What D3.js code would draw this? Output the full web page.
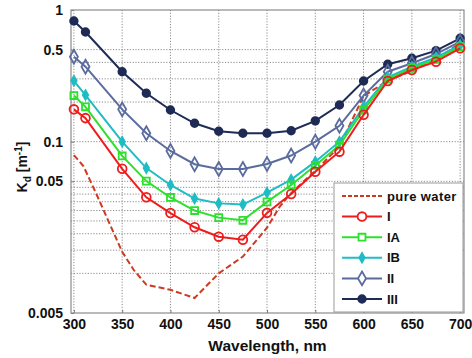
<!DOCTYPE html>
<html>
<head>
<meta charset="utf-8">
<script src="https://cdn.jsdelivr.net/npm/d3@7"></script>
<style>
  body { margin: 0; background: #fff; }
  svg text { font-family: "Liberation Sans", Arial, sans-serif; font-weight: bold; fill: #111; }
</style>
</head>
<body>
<svg id="chart" width="472" height="358"></svg>
<script>
// wavelengths of the measured spectra, nm
var wavelengths = [300, 312, 350, 375, 400, 425, 450, 475, 500, 525, 550, 575, 600, 625, 650, 675, 700];

var kdI   = [0.176, 0.151, 0.0622, 0.0378, 0.0287, 0.0224, 0.0190, 0.0180, 0.0288, 0.0400, 0.0592, 0.084, 0.160, 0.289, 0.350, 0.405, 0.512];
var kdIA  = [0.224, 0.184, 0.0779, 0.0502, 0.0377, 0.0300, 0.0265, 0.0253, 0.0349, 0.0469, 0.0660, 0.094, 0.174, 0.298, 0.361, 0.422, 0.526];
var kdIB  = [0.290, 0.226, 0.100, 0.0630, 0.0469, 0.0370, 0.0340, 0.0333, 0.0410, 0.0515, 0.0705, 0.100, 0.184, 0.308, 0.371, 0.437, 0.542];
var kdII  = [0.442, 0.371, 0.176, 0.116, 0.0850, 0.0674, 0.0621, 0.0621, 0.0677, 0.0785, 0.100, 0.132, 0.224, 0.340, 0.394, 0.463, 0.575];
var kdIII = [0.825, 0.681, 0.340, 0.233, 0.174, 0.138, 0.120, 0.116, 0.116, 0.121, 0.144, 0.190, 0.289, 0.387, 0.430, 0.491, 0.610];

// pure water curve (dashed, no markers)
var waterWl = [300, 310, 324, 336, 350, 362, 375, 400, 425, 450, 475, 500, 513, 524, 538, 550, 575, 600, 625, 650, 675, 700];
var waterKd = [0.079, 0.065, 0.039, 0.0247, 0.0146, 0.0106, 0.0082, 0.0075, 0.0065, 0.0100, 0.0134, 0.0222, 0.032, 0.040, 0.050, 0.060, 0.092, 0.222, 0.290, 0.345, 0.420, 0.560];

var xTicks = [300, 350, 400, 450, 500, 550, 600, 650, 700];
var yTickLabels = [1, 0.5, 0.1, 0.05, 0.005];
var yGrid = [0.5, 0.4, 0.3, 0.2, 0.1, 0.05, 0.045, 0.04, 0.035, 0.03, 0.025, 0.02, 0.015, 0.01];

var seriesNames = ['I', 'IA', 'IB', 'II', 'III'];

(function () {
    var svg = d3.select('#chart');
    var plotLeft = 71, plotRight = 464, plotTop = 10, plotBottom = 313;

    var x = d3.scaleLinear().domain([297, 704]).range([plotLeft, plotRight]);
    var y = d3.scaleLog().domain([0.005, 1]).range([plotBottom, plotTop]);

    // grid
    var grid = svg.append('g').attr('stroke', '#808080').attr('stroke-width', 0.9).attr('stroke-dasharray', '1.2,1.6');
    grid.selectAll('.gx').data(xTicks).enter().append('line')
        .attr('x1', function (d) { return x(d); }).attr('x2', function (d) { return x(d); })
        .attr('y1', plotTop).attr('y2', plotBottom);
    grid.selectAll('.gy').data(yGrid).enter().append('line')
        .attr('x1', plotLeft).attr('x2', plotRight)
        .attr('y1', function (d) { return y(d); }).attr('y2', function (d) { return y(d); });

    // axes (ticks inward, frame drawn separately)
    var xAxis = d3.axisBottom(x).tickValues(xTicks).tickSize(-3).tickPadding(6).tickFormat(d3.format('d'));
    var yAxis = d3.axisLeft(y).tickValues(yTickLabels).tickSize(-3).tickPadding(6).tickFormat(function (d) { return String(d); });

    var gx = svg.append('g').attr('transform', 'translate(0,' + plotBottom + ')').call(xAxis);
    var gy = svg.append('g').attr('transform', 'translate(' + plotLeft + ',0)').call(yAxis);
    [gx, gy].forEach(function (g) {
        g.select('.domain').remove();
        g.selectAll('line').attr('stroke', '#777');
        g.selectAll('text').attr('font-size', 14).attr('font-family', '"Liberation Sans", Arial, sans-serif')
            .attr('font-weight', 'bold').attr('fill', '#111');
    });
    gy.selectAll('text').attr('dx', '-2');

    svg.append('rect').attr('x', plotLeft).attr('y', plotTop)
        .attr('width', plotRight - plotLeft).attr('height', plotBottom - plotTop)
        .attr('fill', 'none').attr('stroke', '#8c8c8c').attr('stroke-width', 1.2);

    // axis titles
    svg.append('text').attr('x', (plotLeft + plotRight) / 2).attr('y', 351).attr('text-anchor', 'middle')
        .attr('font-size', 15.5).text('Wavelength, nm');

    var yt = svg.append('text').attr('transform', 'translate(27,167) rotate(-90)').attr('text-anchor', 'middle').attr('font-size', 14);
    yt.append('tspan').text('K');
    yt.append('tspan').attr('font-size', 10).attr('dy', 4).text('d');
    yt.append('tspan').attr('dy', -4).text(' [m');
    yt.append('tspan').attr('font-size', 10).attr('dy', -5).text('-1');
    yt.append('tspan').attr('dy', 5).text(']');

    var line = d3.line()
        .x(function (d) { return x(d[0]); })
        .y(function (d) { return y(d[1]); })
        .curve(d3.curveLinear);

    // pure water
    svg.append('path')
        .datum(d3.zip(waterWl, waterKd))
        .attr('d', line)
        .attr('fill', 'none').attr('stroke', '#cc3a22').attr('stroke-width', 2).attr('stroke-dasharray', '6,3');

    var styles = {
        'I':   { color: '#ee1c1c', marker: 'circle',  size: 60, fill: 'none' },
        'IA':  { color: '#2de02d', marker: 'square',  size: 48, fill: 'none' },
        'IB':  { color: '#20bcc4', marker: 'diamond', size: 26, fill: '#20bcc4' },
        'II':  { color: '#5a6c9e', marker: 'diamond', size: 55, fill: 'none' },
        'III': { color: '#1e2b55', marker: 'circle',  size: 45, fill: '#1e2b55' }
    };
    var values = { 'I': kdI, 'IA': kdIA, 'IB': kdIB, 'II': kdII, 'III': kdIII };
    var shapes = { circle: d3.symbolCircle, square: d3.symbolSquare, diamond: d3.symbolDiamond };

    seriesNames.slice().reverse().forEach(function (name) {
        var st = styles[name];
        var pts = d3.zip(wavelengths, values[name]);
        var g = svg.append('g');
        g.append('path').datum(pts).attr('d', line)
            .attr('fill', 'none').attr('stroke', st.color).attr('stroke-width', 2);
        g.selectAll('path.m').data(pts).enter().append('path').attr('class', 'm')
            .attr('transform', function (d) { return 'translate(' + x(d[0]) + ',' + y(d[1]) + ')'; })
            .attr('d', d3.symbol().type(shapes[st.marker]).size(st.size))
            .attr('fill', st.fill).attr('stroke', st.color).attr('stroke-width', 1.8);
    });

    // legend
    var lg = svg.append('g').attr('transform', 'translate(334,183)');
    lg.append('rect').attr('width', 129).attr('height', 129).attr('fill', '#fff').attr('stroke', '#999').attr('stroke-width', 1);
    var entries = ['pure water'].concat(seriesNames);
    entries.forEach(function (name, i) {
        var yy = 13 + i * 20.6;
        if (name === 'pure water') {
            lg.append('line').attr('x1', 8).attr('x2', 48).attr('y1', yy).attr('y2', yy)
                .attr('stroke', '#cc3a22').attr('stroke-width', 2).attr('stroke-dasharray', '4,2');
        } else {
            var st = styles[name];
            lg.append('line').attr('x1', 8).attr('x2', 48).attr('y1', yy).attr('y2', yy)
                .attr('stroke', st.color).attr('stroke-width', 2);
            lg.append('path').attr('transform', 'translate(28,' + yy + ')')
                .attr('d', d3.symbol().type(shapes[st.marker]).size(st.size))
                .attr('fill', st.fill === 'none' ? '#fff' : st.fill).attr('stroke', st.color).attr('stroke-width', 1.8);
        }
        lg.append('text').attr('x', 53).attr('y', yy + 4.5).attr('font-size', 13)
            .attr('letter-spacing', name === 'pure water' ? 0.4 : 0).text(name);
    });
})();
</script>
</body>
</html>
